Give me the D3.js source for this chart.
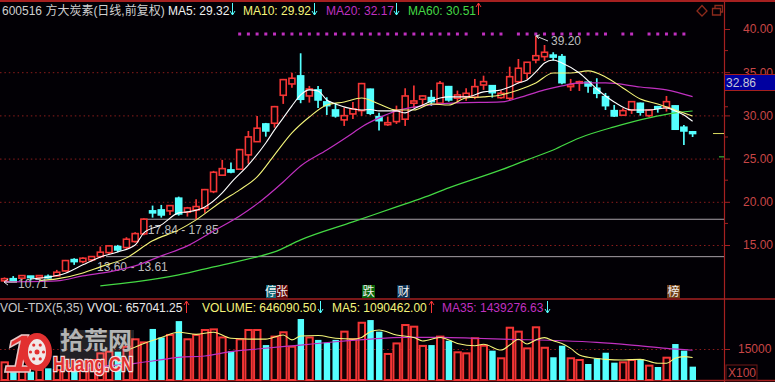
<!DOCTYPE html>
<html>
<head>
<meta charset="utf-8">
<script src="https://cdnjs.cloudflare.com/ajax/libs/d3/7.8.5/d3.min.js"></script>
<style>
body{margin:0;background:#000;overflow:hidden}
text{font-family:"Liberation Sans","Noto Sans CJK SC",sans-serif}
</style>
</head>
<body>
<div id="chart"></div>
<script>
// daily candles, 80 sessions
var opens=[10.85,11.1,11.16,11.4,11.23,11.37,11.43,12.0,13.31,13.08,13.28,13.66,14.12,14.82,14.7,15.4,16.29,18.95,19.06,18.95,
20.42,18.8,19.06,19.26,21.18,23.08,23.69,23.77,25.43,26.96,29.01,29.09,32.33,33.64,34.57,32.25,32.95,31.56,30.63,29.48,
30.17,30.55,33.03,29.86,28.93,29.28,29.56,31.41,31.87,32.06,31.41,33.33,31.99,32.17,32.1,33.52,33.44,32.06,31.98,33.9,
34.88,36.42,36.8,36.98,36.8,33.33,33.72,33.84,33.14,32.17,30.55,30.02,30.63,31.4,29.97,31.01,30.94,31.1,28.63,28.1]
var highs=[11.25,11.4,11.5,11.42,11.5,11.58,12.12,13.27,13.47,13.59,13.7,14.82,15.01,15.01,15.9,16.48,18.1,19.56,19.64,19.64,
20.6,19.41,20.3,21.49,23.58,24.85,24.54,26.12,28.2,29.94,29.13,31.1,34.22,34.95,37.19,33.41,33.41,32.1,31.44,30.9,
31.56,33.76,33.1,30.32,29.86,31.13,33.14,33.47,32.31,32.95,33.99,33.41,32.87,33.14,34.22,34.6,33.52,32.87,35.64,36.53,
36.19,39.2,38.15,37.31,37.11,34.22,34.02,33.87,34.3,32.6,31.21,30.83,31.67,31.48,30.75,31.1,32.25,31.15,28.9,28.2]
var lows=[10.71,10.85,10.96,10.88,11.1,11.12,11.35,11.93,12.7,12.9,13.08,13.47,13.97,14.17,14.55,15.28,16.14,18.17,18.17,18.48,
18.4,18.29,17.91,18.72,21.0,23.0,23.31,23.69,24.4,26.93,27.54,28.58,31.33,33.21,31.41,31.48,30.86,30.05,29.74,28.78,
29.59,29.94,30.05,28.24,28.78,29.01,28.78,30.83,31.1,31.1,31.33,31.59,31.48,31.71,31.87,32.95,32.06,31.94,31.71,33.72,
34.22,36.03,36.3,36.34,33.6,32.83,32.83,32.63,31.99,30.63,29.82,29.94,30.17,29.97,29.82,30.32,30.44,28.32,26.58,27.5]
var closes=[11.1,11.0,11.46,11.28,11.46,11.25,11.85,13.2,13.08,13.47,13.66,14.17,14.9,14.43,15.67,16.32,17.99,18.72,18.48,19.56,
18.6,19.29,19.45,21.41,23.42,23.84,23.45,26.04,27.51,28.52,28.2,31.01,34.14,34.3,31.87,33.06,31.79,31.13,29.94,29.97,
30.75,33.68,30.25,29.39,29.16,30.55,32.25,31.67,32.25,31.59,33.72,31.79,32.37,32.56,33.33,33.91,32.63,32.56,34.48,35.46,
36.15,36.91,37.31,36.75,33.79,33.56,33.9,33.41,32.56,31.13,29.94,30.55,31.59,30.37,30.63,30.83,31.59,28.4,28.2,27.9]

var ma5Days=[3,6,7,9,11,13,15,16,18,20,21,23,25,26,28,30,31,32,33,34,35,36,37,38,40,41,42,43,45,46,47,48,50,51,53,55,57,58,59,60,61,62,63,64,66,68,70,72,74,76,77,78,79]
var ma5Vals=[11.06,11.46,11.74,12.7,13.62,14.2,15.0,16.4,17.33,18.72,18.83,19.41,21.03,22.19,24.27,26.81,28.32,29.71,31.1,32.37,32.95,32.83,31.79,31.33,30.75,30.63,30.69,30.52,30.52,30.29,30.75,31.21,32.02,32.14,32.14,32.72,32.95,33.29,33.76,34.1,35.03,36.07,36.42,36.07,34.91,33.06,31.56,30.63,30.63,30.86,30.52,30.05,29.32]
var ma10Days=[4,6,9,11,14,17,20,22,25,27,29,31,33,35,37,39,41,43,45,47,49,51,53,55,57,59,61,63,65,67,69,71,73,75,77,79]
var ma10Vals=[10.88,11.08,11.77,12.47,13.51,15.48,16.75,17.91,20.1,21.38,22.88,25.43,27.97,29.82,31.21,31.56,32.02,31.33,30.63,30.63,31.33,31.21,32.02,32.14,32.37,32.95,33.76,34.91,34.91,35.15,34.45,33.18,31.9,31.33,30.63,29.92]
var ma20Days=[0,6,9,12,15,18,21,24,27,29,32,34,37,40,41,43,45,48,52,57,59,62,64,66,69,73,76,79]
var ma20Vals=[10.73,10.85,11.43,11.89,12.58,13.74,14.9,16.63,18.37,19.76,22.3,24.15,26.0,27.97,28.67,29.71,30.52,31.1,31.44,31.56,32.02,32.95,33.41,33.76,33.76,33.29,32.95,32.17]
var ma60Days=[11,15,20,24,29,31,34,40,45,48,51,57,60,63,66,70,74,77,79]
var ma60Vals=[10.27,10.73,11.54,12.47,13.62,14.2,15.59,17.67,19.41,20.45,21.61,23.69,24.85,26.0,27.39,28.67,29.71,30.29,30.51]

// volume, x100
var volumes=[8550,4030,6100,4030,4840,5650,4840,7260,8070,8870,9680,12900,13700,13700,16100,19700,18200,24700,20600,21800,
28500,19700,21800,24200,24500,20600,14000,19700,24200,24200,16900,21000,23100,16100,29500,20600,19400,18100,19400,23400,
19700,27700,29000,23400,12600,17700,26600,25800,16500,16900,21000,19000,13400,12900,20200,16600,14200,10500,25300,23400,
15300,25500,15600,11000,16600,10500,9680,7740,10500,13200,8390,8550,9680,10000,6940,6290,10800,17400,14200,6460]
var volUp=[1,0,1,0,1,0,1,1,0,1,1,1,1,0,1,1,1,0,0,1,0,1,1,1,1,1,0,1,1,1,0,1,1,1,0,1,0,0,0,1,1,1,0,0,1,1,1,1,1,0,1,0,1,1,1,1,0,1,1,1,1,1,1,0,0,1,1,0,0,0,0,1,1,0,1,0,1,0,0,0]
var vma5Days=[14,16,18,20,22,24,26,28,30,32,33,34,36,38,40,41,42,43,45,47,48,50,52,54,55,57,58,59,60,61,62,63,64,65,66,67,69,71,73,75,76,77,78,79]
var vma5Vals=[14200,17700,20600,23100,22100,23100,20200,19800,19800,21800,19400,21300,21500,20200,19800,20600,23400,24200,21800,20600,18900,20600,17700,16600,17300,14500,16900,19700,17400,19400,20500,19000,17700,15300,12100,11000,10000,9680,10000,8070,8070,10500,11300,10904]
var vma35Days=[8,11,15,17,20,23,26,29,34,38,42,46,50,54,58,64,68,72,76,79]
var vma35Vals=[4840,6450,8070,9190,10970,11600,13700,15000,16900,18500,19800,20600,20600,20200,19700,19000,18200,16900,15300,14393]

var priceTicks=[15,20,25,30,35,40]
var minorTicks=[17.5,22.5,27.5,31,37.5]
var volTicks=[15000]
// sessions carrying the purple marker row along the top
var markerDays=d3.range(27,54).concat(d3.range(55,58),d3.range(59,70),[71,72],d3.range(74,79))
var markerLevel=39.42
var rangeLines=[[16,17.98,"17.84 - 17.85"],[12,13.65,"13.60 - 13.61"]]
var lastPrice=32.86

var red="#f53535",cyan="#55ffff",gridRed="#8c1c1c",axisRed="#a52020",labelRed="#c84646"
var w=775,h=382,axisX=724

var svg=d3.select("#chart").append("svg").attr("width",w).attr("height",h).attr("font-size",12)
svg.append("rect").attr("width",w).attr("height",h).attr("fill","#020005")

var x=d3.scaleLinear().domain([0,79]).range([4.5,692.6])
var y=d3.scaleLinear().domain([15,40]).range([245,29])
var yVol=d3.scaleLinear().domain([0,15000]).range([380,349])

// grid
svg.selectAll(".grid").data(priceTicks.slice(0,5)).enter().append("line")
	.attr("x1",0).attr("x2",axisX)
	.attr("y1",function(d){return y(d)+0.5}).attr("y2",function(d){return y(d)+0.5})
	.attr("stroke",gridRed).attr("stroke-dasharray","1.5 2.9")
svg.selectAll(".vgrid").data(volTicks).enter().append("line")
	.attr("x1",0).attr("x2",axisX)
	.attr("y1",function(d){return yVol(d)+0.5}).attr("y2",function(d){return yVol(d)+0.5})
	.attr("stroke",gridRed).attr("stroke-dasharray","1.5 2.9")

// frame
svg.append("line").attr("x1",0).attr("x2",w).attr("y1",1).attr("y2",1).attr("stroke",axisRed).attr("stroke-width",2)
svg.append("line").attr("x1",0).attr("x2",w).attr("y1",299).attr("y2",299).attr("stroke",axisRed).attr("stroke-width",1.5)
svg.append("line").attr("x1",0).attr("x2",w).attr("y1",380.5).attr("y2",380.5).attr("stroke",axisRed).attr("stroke-width",1.5)
svg.append("line").attr("x1",axisX+0.5).attr("x2",axisX+0.5).attr("y1",0).attr("y2",h).attr("stroke",axisRed).attr("stroke-width",1.2)

// flat range lines
rangeLines.forEach(function(r){
	svg.append("line").attr("x1",x(r[0])-3).attr("x2",axisX)
		.attr("y1",y(r[1])).attr("y2",y(r[1]))
		.attr("stroke","#a8a0a8").attr("stroke-width",1)
	svg.append("text").attr("x",x(r[0])+(r[0]==16?4:-12)).attr("y",y(r[1])+14.5)
		.attr("fill","#bdbdbd").text(r[2])
})

// purple markers
svg.selectAll(".marker").data(markerDays).enter().append("rect")
	.attr("x",function(d){return x(d)-1.5}).attr("y",y(markerLevel)-1.5)
	.attr("width",3).attr("height",3).attr("fill","#c030c0")

// candles
var days=d3.range(opens.length)
svg.selectAll(".wick").data(days).enter().append("line")
	.attr("x1",function(i){return x(i)}).attr("x2",function(i){return x(i)})
	.attr("y1",function(i){return y(highs[i])}).attr("y2",function(i){return y(lows[i])})
	.attr("stroke",function(i){return closes[i]>=opens[i]?red:cyan}).attr("stroke-width",1.7)
svg.selectAll(".body").data(days).enter().append("rect")
	.attr("x",function(i){return x(i)-3})
	.attr("y",function(i){return y(Math.max(opens[i],closes[i]))})
	.attr("width",6)
	.attr("height",function(i){return Math.max(1.5,Math.abs(y(opens[i])-y(closes[i])))})
	.attr("fill",function(i){return closes[i]>=opens[i]?"#020005":cyan})
	.attr("stroke",function(i){return closes[i]>=opens[i]?red:cyan})
	.attr("stroke-width",1.6)

// moving averages
function maLine(g,days,vals,scale,color,wd){
	var line=d3.line().x(function(d){return x(d)}).y(function(d,i){return scale(vals[i])}).curve(d3.curveMonotoneX)
	g.append("path").attr("d",line(days)).attr("fill","none").attr("stroke",color).attr("stroke-width",wd)
}
maLine(svg,ma60Days,ma60Vals,y,"#44d844",1.2)
maLine(svg,ma20Days,ma20Vals,y,"#c030c0",1.2)
maLine(svg,ma10Days,ma10Vals,y,"#f5f57a",1.1)
maLine(svg,ma5Days,ma5Vals,y,"#ffffff",1.1)

// low and high callouts
svg.append("text").attr("x",18).attr("y",288).attr("fill","#bdbdbd").text("10.71")
svg.append("path").attr("d","M17 "+y(10.71)+"H4M8 "+(y(10.71)-3)+"L4 "+y(10.71)+"L8 "+(y(10.71)+3)).attr("fill","none").attr("stroke","#e0e0e0")
svg.append("text").attr("x",551).attr("y",45).attr("fill","#bdbdbd").text("39.20")
svg.append("path").attr("d","M548 41L"+x(61)+" "+y(39.2)+"M"+(x(61)+4)+" "+(y(39.2)-1)+"L"+x(61)+" "+y(39.2)+"L"+(x(61)+3)+" "+(y(39.2)+3)).attr("fill","none").attr("stroke","#d8d8d8")

// volume bars
svg.selectAll(".vol").data(days).enter().append("rect")
	.attr("x",function(i){return x(i)-3})
	.attr("y",function(i){return yVol(volumes[i])})
	.attr("width",6.4)
	.attr("height",function(i){return 380-yVol(volumes[i])})
	.attr("fill",function(i){return volUp[i]?"#120003":cyan})
	.attr("stroke",function(i){return volUp[i]?red:"none"})
	.attr("stroke-width",2)
maLine(svg,vma35Days,vma35Vals,yVol,"#c030c0",1.2)
maLine(svg,vma5Days,vma5Vals,yVol,"#f5f57a",1.1)

// price axis
var axis=d3.axisRight(y).tickValues(priceTicks).tickSize(6).tickPadding(13).tickFormat(d3.format(".2f"))
var ag=svg.append("g").attr("transform","translate("+axisX+",0)").call(axis)
ag.select(".domain").remove()
ag.selectAll("line").attr("stroke",axisRed)
ag.selectAll("text").attr("fill",labelRed).attr("font-size",12)
svg.selectAll(".minor").data(minorTicks).enter().append("line")
	.attr("x1",axisX).attr("x2",axisX+4)
	.attr("y1",function(d){return y(d)}).attr("y2",function(d){return y(d)})
	.attr("stroke",axisRed)

// volume axis
var vAxis=d3.axisRight(yVol).tickValues(volTicks).tickSize(6).tickPadding(8).tickFormat(d3.format("d"))
var vg=svg.append("g").attr("transform","translate("+axisX+",0)").call(vAxis)
vg.select(".domain").remove()
vg.selectAll("line").attr("stroke",axisRed)
vg.selectAll("text").attr("fill",labelRed).attr("font-size",12)
svg.append("rect").attr("x",726).attr("y",365).attr("width",31).attr("height",15).attr("fill","none").attr("stroke","#701818")
svg.append("text").attr("x",728).attr("y",377).attr("fill",labelRed).text("X100")

// last price box
svg.append("rect").attr("x",axisX+1).attr("y",75).attr("width",50).attr("height",15).attr("fill","#0000a0")
svg.append("line").attr("x1",axisX).attr("x2",w).attr("y1",74.5).attr("y2",74.5).attr("stroke",axisRed)
svg.append("line").attr("x1",axisX).attr("x2",w).attr("y1",90.5).attr("y2",90.5).attr("stroke",axisRed)
svg.append("text").attr("x",726).attr("y",87).attr("fill","#c8c8d8").text(d3.format(".2f")(lastPrice))

// current price ticks
svg.append("line").attr("x1",713).attr("x2",axisX).attr("y1",y(27.9)).attr("y2",y(27.9)).attr("stroke","#d8d860")
svg.append("line").attr("x1",719).attr("x2",axisX).attr("y1",y(25.2)).attr("y2",y(25.2)).attr("stroke","#44d844")

// corner icons
svg.append("path").attr("d","M702 5.5L707 11L702 16L697 11Z").attr("fill","none").attr("stroke","#8c2a1c").attr("stroke-width",1.3)
svg.append("path").attr("d","M712.5 8.5H720.5V15H712.5ZM715 8.5V5.5H722.5V12H720.5").attr("fill","none").attr("stroke","#8c2a1c").attr("stroke-width",1.3)

// header text
var head=[
	[2,"600516 方大炭素(日线,前复权)","#d0d0d0"],
	[168,"MA5: 29.32","#f0f0f0"],
	[243,"MA10: 29.92","#f5f57a"],
	[326,"MA20: 32.17","#c030c0"],
	[408,"MA60: 30.51","#44d844"]]
head.forEach(function(t){
	svg.append("text").attr("x",t[0]).attr("y",15).attr("fill",t[2]).text(t[1])
})
var volHead=[
	[0,"VOL-TDX(5,35)","#c8c8c8"],
	[87,"VVOL: 657041.25","#e8e8e8"],
	[202,"VOLUME: 646090.50","#f5f57a"],
	[332,"MA5: 1090462.00","#f5f57a"],
	[442,"MA35: 1439276.63","#c030c0"]]
volHead.forEach(function(t){
	svg.append("text").attr("x",t[0]).attr("y",312).attr("fill",t[2]).text(t[1])
})

function arrow(ax,ay,up,color){
	var d=up?"M"+ax+" "+(ay+12)+"V"+ay+"M"+(ax-2.5)+" "+(ay+4)+"L"+ax+" "+ay+"L"+(ax+2.5)+" "+(ay+4)
		:"M"+ax+" "+ay+"V"+(ay+12)+"M"+(ax-2.5)+" "+(ay+8)+"L"+ax+" "+(ay+12)+"L"+(ax+2.5)+" "+(ay+8)
	svg.append("path").attr("d",d).attr("fill","none").attr("stroke",color)
}
arrow(232.5,3,false,cyan)
arrow(314.5,3,false,cyan)
arrow(396.5,3,false,cyan)
arrow(478.5,3,true,red)
arrow(186.5,301,true,red)
arrow(320.5,301,false,cyan)
arrow(431.5,301,true,red)
arrow(547.5,301,false,cyan)

// event tags
var tags=[[266,10,"停","#106878"],[276,12,"张","#600808"],[362,13,"跌","#0a640a"],[397,13,"财","#0c3050"],[667,13,"榜","#704018"]]
tags.forEach(function(t){
	svg.append("rect").attr("x",t[0]).attr("y",285).attr("width",t[1]).attr("height",13).attr("fill",t[3])
	svg.append("text").attr("x",t[0]+t[1]/2).attr("y",296).attr("text-anchor","middle").attr("fill","#f0f0f0").text(t[2])
})

// site watermark
var wm=svg.append("g")
wm.append("rect").attr("x",60).attr("y",330).attr("width",74).attr("height",41).attr("fill","#fff").attr("opacity",0.13)
wm.append("text").attr("x",4).attr("y",372).attr("font-size",54).attr("font-weight","bold").attr("font-style","italic")
	.attr("fill","#e23030").attr("stroke","#e8c8c8").attr("stroke-width",1.5).text("1")
wm.append("ellipse").attr("cx",37).attr("cy",352).attr("rx",12).attr("ry",16).attr("fill","#f0e8e8").attr("stroke","#e23030").attr("stroke-width",6)
wm.selectAll(".hole").data([0,60,120,180,240,300]).enter().append("circle")
	.attr("cx",function(a){return 37+6.5*Math.cos(a*Math.PI/180)})
	.attr("cy",function(a){return 352+8*Math.sin(a*Math.PI/180)})
	.attr("r",1.6).attr("fill","#e23030")
wm.append("circle").attr("cx",37).attr("cy",352).attr("r",2.5).attr("fill","#e23030")
wm.append("text").attr("x",60).attr("y",349).attr("font-size",24).attr("font-weight","bold").attr("fill","#b4b4b4").text("拾荒网")
wm.append("text").attr("x",53).attr("y",371).attr("font-size",20).attr("font-weight","bold")
	.attr("textLength",80).attr("lengthAdjust","spacingAndGlyphs")
	.attr("fill","#e23030").attr("stroke","#f4dcdc").attr("stroke-width",2.5).style("paint-order","stroke").text("Huang.CN")
</script>
</body>
</html>
